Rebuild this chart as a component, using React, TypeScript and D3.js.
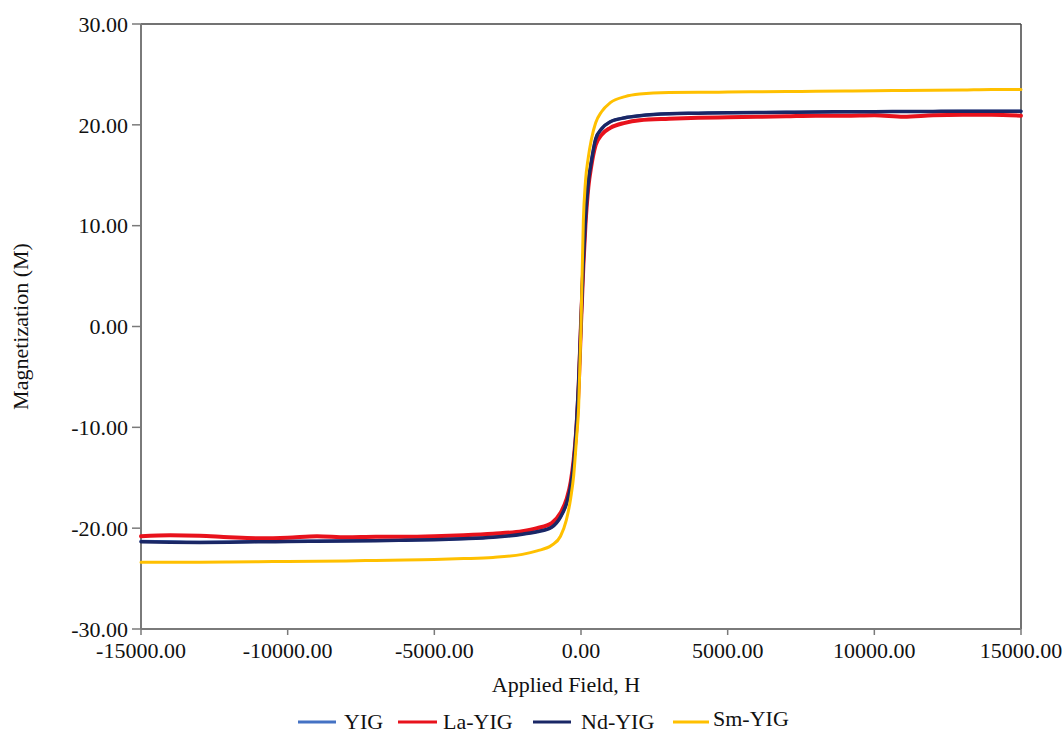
import React from "react";
import * as d3 from "d3";

const fieldH = [-15000, -14000, -13000, -12000, -11000, -10000, -9000, -8000, -7000, -6000, -5000, -4000, -3000, -2000, -1500, -1000, -700, -500, -350, -250, -150, -80, 0, 80, 150, 250, 350, 500, 700, 1000, 1500, 2000, 3000, 4000, 5000, 6000, 7000, 8000, 9000, 10000, 11000, 12000, 13000, 14000, 15000];

const yigM = [-21.3, -21.35, -21.4, -21.38, -21.33, -21.3, -21.28, -21.26, -21.23, -21.18, -21.13, -21.03, -20.88, -20.58, -20.33, -19.88, -18.88, -17.58, -15.78, -13.48, -9.5, -5.5, 0.5, 6.5, 10.5, 14.3, 16.3, 18.6, 19.6, 20.3, 20.7, 20.9, 21.1, 21.15, 21.2, 21.22, 21.25, 21.27, 21.3, 21.3, 21.32, 21.33, 21.34, 21.35, 21.35];
const laYigM = [-20.8, -20.7, -20.75, -20.9, -21.0, -20.95, -20.8, -20.9, -20.85, -20.85, -20.8, -20.7, -20.55, -20.3, -20.0, -19.5, -18.5, -17.2, -15.4, -13.2, -9.8, -6, 0.3, 6, 10, 13.8, 15.9, 18.0, 19.0, 19.7, 20.2, 20.45, 20.6, 20.7, 20.75, 20.8, 20.85, 20.9, 20.9, 20.95, 20.8, 20.95, 21.0, 21.0, 20.9];
const ndYigM = [-21.35, -21.4, -21.42, -21.4, -21.35, -21.33, -21.3, -21.28, -21.25, -21.2, -21.15, -21.05, -20.9, -20.6, -20.35, -19.9, -18.9, -17.6, -15.8, -13.5, -9.5, -5.5, 0.5, 6.5, 10.5, 14.3, 16.3, 18.6, 19.6, 20.3, 20.7, 20.9, 21.1, 21.15, 21.2, 21.22, 21.25, 21.28, 21.3, 21.3, 21.32, 21.33, 21.35, 21.35, 21.35];
const smYigM = [-23.38, -23.38, -23.37, -23.35, -23.33, -23.3, -23.28, -23.25, -23.2, -23.15, -23.1, -23.02, -22.9, -22.6, -22.25, -21.7, -20.8, -19.2, -17, -14.8, -11, -8, 0, 10.5, 14.3, 16.8, 18.5, 20.2, 21.3, 22.2, 22.8, 23.05, 23.2, 23.22, 23.25, 23.28, 23.3, 23.33, 23.35, 23.38, 23.4, 23.42, 23.45, 23.5, 23.5];

const seriesNames = ["YIG", "La-YIG", "Nd-YIG", "Sm-YIG"];
const seriesValues = [yigM, laYigM, ndYigM, smYigM];
const seriesColors = ["#4472C4", "#E8121C", "#1A2766", "#FFC000"];
const seriesWidths = [3, 4, 3.5, 3];

const xTicks = [-15000, -10000, -5000, 0, 5000, 10000, 15000];
const yTicks = [-30, -20, -10, 0, 10, 20, 30];

const FONT = '"Times New Roman", Times, "Liberation Serif", Tinos, "DejaVu Serif", "Noto Serif", serif';

export default function App() {
  const left = 141, right = 1021, top = 24, bottom = 629;
  const x = d3.scaleLinear().domain([-15000, 15000]).range([left, right]);
  const y = d3.scaleLinear().domain([-30, 30]).range([bottom, top]);
  const line = d3
    .line<number>()
    .x((_, i) => x(fieldH[i]))
    .y((d) => y(d))
    .curve(d3.curveMonotoneX);

  const legendItems = [
    { lx1: 298, lx2: 336, tx: 344, ty: 729 },
    { lx1: 398, lx2: 437, tx: 443, ty: 729 },
    { lx1: 533, lx2: 571, tx: 581, ty: 729 },
    { lx1: 673, lx2: 709, tx: 713, ty: 726 },
  ];

  const txt = { fontFamily: FONT, fontSize: 22, fill: "#111" } as React.CSSProperties;

  return (
    <svg
      width={1064}
      height={733}
      style={{ position: "absolute", left: 0, top: 0, background: "#fff", fontFamily: FONT }}
    >
      <rect x={0} y={0} width={1064} height={733} fill="#fff" />
      <line x1={left} x2={right} y1={top} y2={top} stroke="#444" strokeWidth={1.5} />
      <line x1={right} x2={right} y1={top} y2={bottom} stroke="#444" strokeWidth={1.5} />
      <line x1={left} x2={left} y1={top} y2={bottom} stroke="#7a7a7a" strokeWidth={2} />
      <line x1={left} x2={right} y1={bottom} y2={bottom} stroke="#7a7a7a" strokeWidth={2} />
      {yTicks.map((t) => (
        <g key={"y" + t}>
          <line x1={left - 9} x2={left} y1={y(t)} y2={y(t)} stroke="#7a7a7a" strokeWidth={1.5} />
          <text x={128} y={y(t)} dy="0.35em" textAnchor="end" style={txt}>
            {t.toFixed(2)}
          </text>
        </g>
      ))}
      {xTicks.map((t) => (
        <g key={"x" + t}>
          <line x1={x(t)} x2={x(t)} y1={bottom} y2={bottom + 6} stroke="#7a7a7a" strokeWidth={1.5} />
          <text x={x(t)} y={658} textAnchor="middle" style={txt}>
            {t.toFixed(2)}
          </text>
        </g>
      ))}
      {seriesValues.map((vals, i) => (
        <path
          key={seriesNames[i]}
          d={line(vals) || ""}
          fill="none"
          stroke={seriesColors[i]}
          strokeWidth={seriesWidths[i]}
          strokeLinejoin="round"
          strokeLinecap="round"
        />
      ))}
      <text x={566} y={692} textAnchor="middle" style={txt}>
        Applied Field, H
      </text>
      <text
        transform={`translate(28, ${(top + bottom) / 2}) rotate(-90)`}
        textAnchor="middle"
        style={txt}
      >
        Magnetization (M)
      </text>
      {legendItems.map((it, i) => (
        <g key={"lg" + i}>
          <line x1={it.lx1} x2={it.lx2} y1={722} y2={722} stroke={seriesColors[i]} strokeWidth={3} />
          <text x={it.tx} y={it.ty} style={txt}>
            {seriesNames[i]}
          </text>
        </g>
      ))}
    </svg>
  );
}
